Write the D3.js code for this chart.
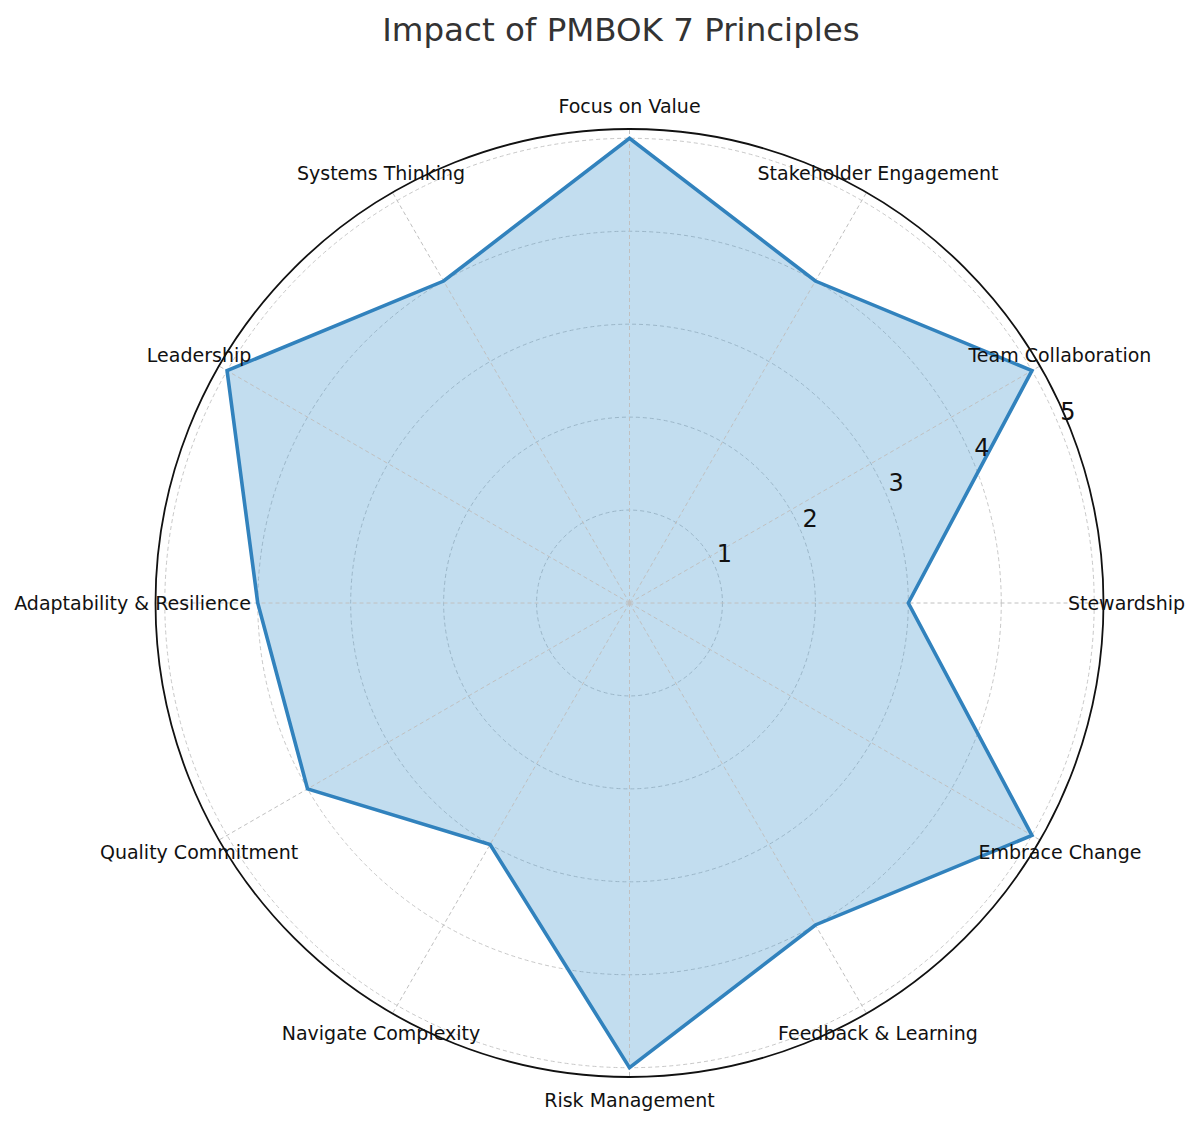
<!DOCTYPE html>
<html>
<head>
<meta charset="utf-8">
<script src="https://cdn.jsdelivr.net/npm/d3@7"></script>
<style>
  body { margin: 0; background: white; }
  text { font-family: "DejaVu Sans", sans-serif; }
</style>
</head>
<body>
<svg width="1200" height="1125"></svg>
<script>
const categories = ['Stewardship', 'Team Collaboration', 'Stakeholder Engagement', 'Focus on Value',
  'Systems Thinking', 'Leadership', 'Adaptability & Resilience', 'Quality Commitment',
  'Navigate Complexity', 'Risk Management', 'Feedback & Learning', 'Embrace Change'];
const impact = [3, 5, 4, 5, 4, 5, 4, 4, 3, 5, 4, 5];
const rTicks = [1, 2, 3, 4, 5];

const svg = d3.select('svg');
const cx = 629.5, cy = 603;
const rMax = 5.1;

const rScale = d3.scaleLinear().domain([0, rMax]).range([0, 474]);
// angle in radians, counterclockwise from the right (east)
const aScale = d3.scaleLinear().domain([0, categories.length]).range([0, 2 * Math.PI]);

const px = (a, r) => cx + Math.cos(a) * r;
const py = (a, r) => cy - Math.sin(a) * r;

const g = svg.append('g');

// grid circles
g.selectAll('circle.grid').data(rTicks)
  .enter().append('circle')
    .attr('class', 'grid')
    .attr('cx', cx).attr('cy', cy)
    .attr('r', d => rScale(d))
    .attr('fill', 'none')
    .attr('stroke', '#c8c8c8')
    .attr('stroke-width', 1)
    .attr('stroke-dasharray', '4,3');

// fill
const pts = impact.map((v, i) => [px(aScale(i), rScale(v)), py(aScale(i), rScale(v))]);
const line = d3.line().curve(d3.curveLinearClosed);

g.append('path')
  .attr('d', line(pts))
  .attr('fill', '#3690cb')
  .attr('fill-opacity', 0.3)
  .attr('stroke', 'none');

// spokes
g.selectAll('line.spoke').data(categories)
  .enter().append('line')
    .attr('x1', cx).attr('y1', cy)
    .attr('x2', (d, i) => px(aScale(i), rScale(rMax)))
    .attr('y2', (d, i) => py(aScale(i), rScale(rMax)))
    .attr('stroke', '#c0c0c0')
    .attr('stroke-width', 1)
    .attr('stroke-dasharray', '4,3');

// outline
g.append('path')
  .attr('d', line(pts))
  .attr('fill', 'none')
  .attr('stroke', '#3182bd')
  .attr('stroke-width', 3.6)
  .attr('stroke-linejoin', 'miter');

// outer frame
g.append('circle')
  .attr('cx', cx).attr('cy', cy)
  .attr('r', rScale(rMax))
  .attr('fill', 'none')
  .attr('stroke', '#111')
  .attr('stroke-width', 1.8);

// radial tick labels at 22.5deg
const tA = 22.5 * Math.PI / 180;
g.selectAll('text.rtick').data(rTicks)
  .enter().append('text')
    .attr('x', d => px(tA, rScale(d)) + 9)
    .attr('y', d => py(tA, rScale(d)) - 13)
    .attr('text-anchor', 'middle')
    .attr('dominant-baseline', 'central')
    .attr('font-size', 24)
    .attr('fill', '#111')
    .text(d => d);

// category labels
g.selectAll('text.cat').data(categories)
  .enter().append('text')
    .attr('x', (d, i) => px(aScale(i), 497))
    .attr('y', (d, i) => py(aScale(i), 497))
    .attr('text-anchor', 'middle')
    .attr('dominant-baseline', 'central')
    .attr('font-size', 19)
    .attr('fill', '#111')
    .text(d => d);

// title
svg.append('text')
  .attr('x', 621).attr('y', 30)
  .attr('text-anchor', 'middle')
  .attr('dominant-baseline', 'central')
  .attr('font-size', 32.5)
  .attr('fill', '#333')
  .text('Impact of PMBOK 7 Principles');
</script>
</body>
</html>
